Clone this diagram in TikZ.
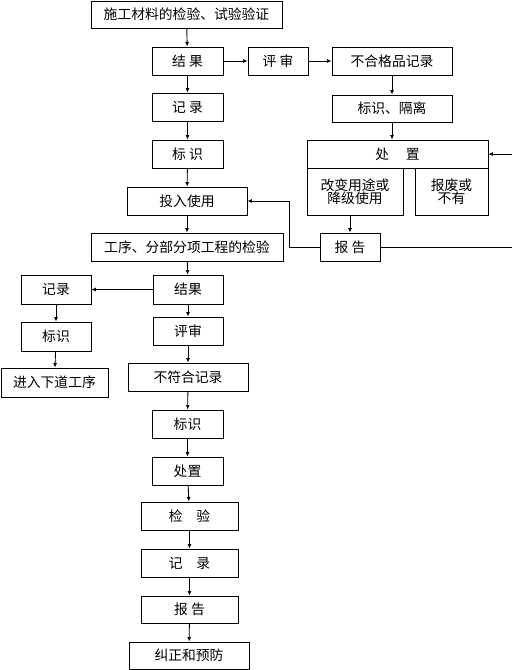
\documentclass[tikz,border=0pt]{standalone}
\usepackage{fontspec}
\setmainfont{Noto Sans CJK SC}
\usetikzlibrary{arrows.meta}
\begin{document}
\begin{tikzpicture}[x=1pt,y=-1pt,
  bx/.style={draw,line width=0.9pt,inner sep=0pt,font=\fontsize{13.8}{15.5}\selectfont},
  arr/.style={draw,line width=0.9pt,-{Latex[length=4.5pt,width=4pt]}},
  ln/.style={draw,line width=0.9pt}]
\useasboundingbox (0,0) rectangle (512,670);
\node[bx,minimum width=191pt,minimum height=27pt] (n1) at (186.5,14.5) {施工材料的检验、试验验证};
\node[bx,minimum width=71pt,minimum height=28pt] (jg1) at (187.5,61) {结 果};
\node[bx,minimum width=60pt,minimum height=28pt] (ps1) at (278,61) {评 审};
\node[bx,minimum width=120pt,minimum height=28pt] (bhg) at (392,61) {不合格品记录};
\node[bx,minimum width=120pt,minimum height=27pt] (bsgl) at (392,108.5) {标识、隔离};
\node[bx,minimum width=71pt,minimum height=28pt] (jl1) at (187.5,107) {记 录};
\node[bx,minimum width=71pt,minimum height=28pt] (bs1) at (187.5,154) {标 识};
\node[bx,minimum width=181pt,minimum height=28pt] (cz) at (397.5,154) {处\hspace{1.2em}置};
\node[bx,minimum width=96pt,minimum height=47pt,align=center] (gb) at (355,191.5) {改变用途或\\[-2pt]降级使用};
\node[bx,minimum width=73pt,minimum height=47pt,align=center] (bf) at (451.5,191.5) {报废或\\[-2pt]不有};
\node[bx,minimum width=120pt,minimum height=28pt] (tr) at (187,201) {投入使用};
\node[bx,minimum width=192pt,minimum height=28pt] (gx) at (187,247) {工序、分部分项工程的检验};
\node[bx,minimum width=60pt,minimum height=28pt] (bg1) at (350,247) {报 告};
\node[bx,minimum width=70pt,minimum height=29pt] (jg2) at (188,289.5) {结果};
\node[bx,minimum width=70pt,minimum height=29pt] (jl2) at (56,289.5) {记录};
\node[bx,minimum width=70pt,minimum height=29pt] (bs2) at (56,336.5) {标识};
\node[bx,minimum width=107pt,minimum height=29pt] (jr) at (54.5,382.5) {进入下道工序};
\node[bx,minimum width=70pt,minimum height=28pt] (ps2) at (188,331) {评审};
\node[bx,minimum width=120pt,minimum height=28pt] (bfh) at (188,377) {不符合记录};
\node[bx,minimum width=71pt,minimum height=28pt] (bs3) at (187.5,424) {标识};
\node[bx,minimum width=71pt,minimum height=28pt] (cz2) at (187.5,471) {处置};
\node[bx,minimum width=97pt,minimum height=28pt] (jy) at (189.5,516) {检\hspace{1em}验};
\node[bx,minimum width=97pt,minimum height=28pt] (jl3) at (189.5,563) {记\hspace{1em}录};
\node[bx,minimum width=97pt,minimum height=27pt] (bg2) at (189.5,609.5) {报 告};
\node[bx,minimum width=120pt,minimum height=27pt] (jz) at (189,655.5) {纠正和预防};
\coordinate (rin) at (512,154);
\coordinate (rout) at (512,247);
\draw[arr] (n1) -- (jg1);
\draw[arr] (jg1) -- (ps1);
\draw[arr] (ps1) -- (bhg);
\draw[arr] (bhg) -- (bsgl);
\draw[arr] (bsgl) -- (cz.north -| bsgl);
\draw[arr] (jg1) -- (jl1);
\draw[arr] (jl1) -- (bs1);
\draw[arr] (bs1) -- (tr);
\draw[arr] (tr) -- (gx);
\draw[arr] (gx) -- (jg2);
\draw[arr] (jg2) -- (jl2);
\draw[arr] (jl2) -- (bs2);
\draw[arr] (bs2) -- (jr);
\draw[arr] (jg2) -- (ps2);
\draw[arr] (ps2) -- (bfh);
\draw[arr] (bfh) -- (bs3);
\draw[arr] (bs3) -- (cz2);
\draw[arr] (cz2) -- (jy);
\draw[arr] (jy) -- (jl3);
\draw[arr] (jl3) -- (bg2);
\draw[arr] (bg2) -- (jz);
\draw[arr] (bg1.north |- gb.south) -- (bg1.north);
\draw[arr] (bg1.west) -- ++(-30,0) |- (tr.east);
\draw[ln] (bg1.east) -- (rout);
\draw[arr] (rin) -- (cz.east);
\end{tikzpicture}
\end{document}
